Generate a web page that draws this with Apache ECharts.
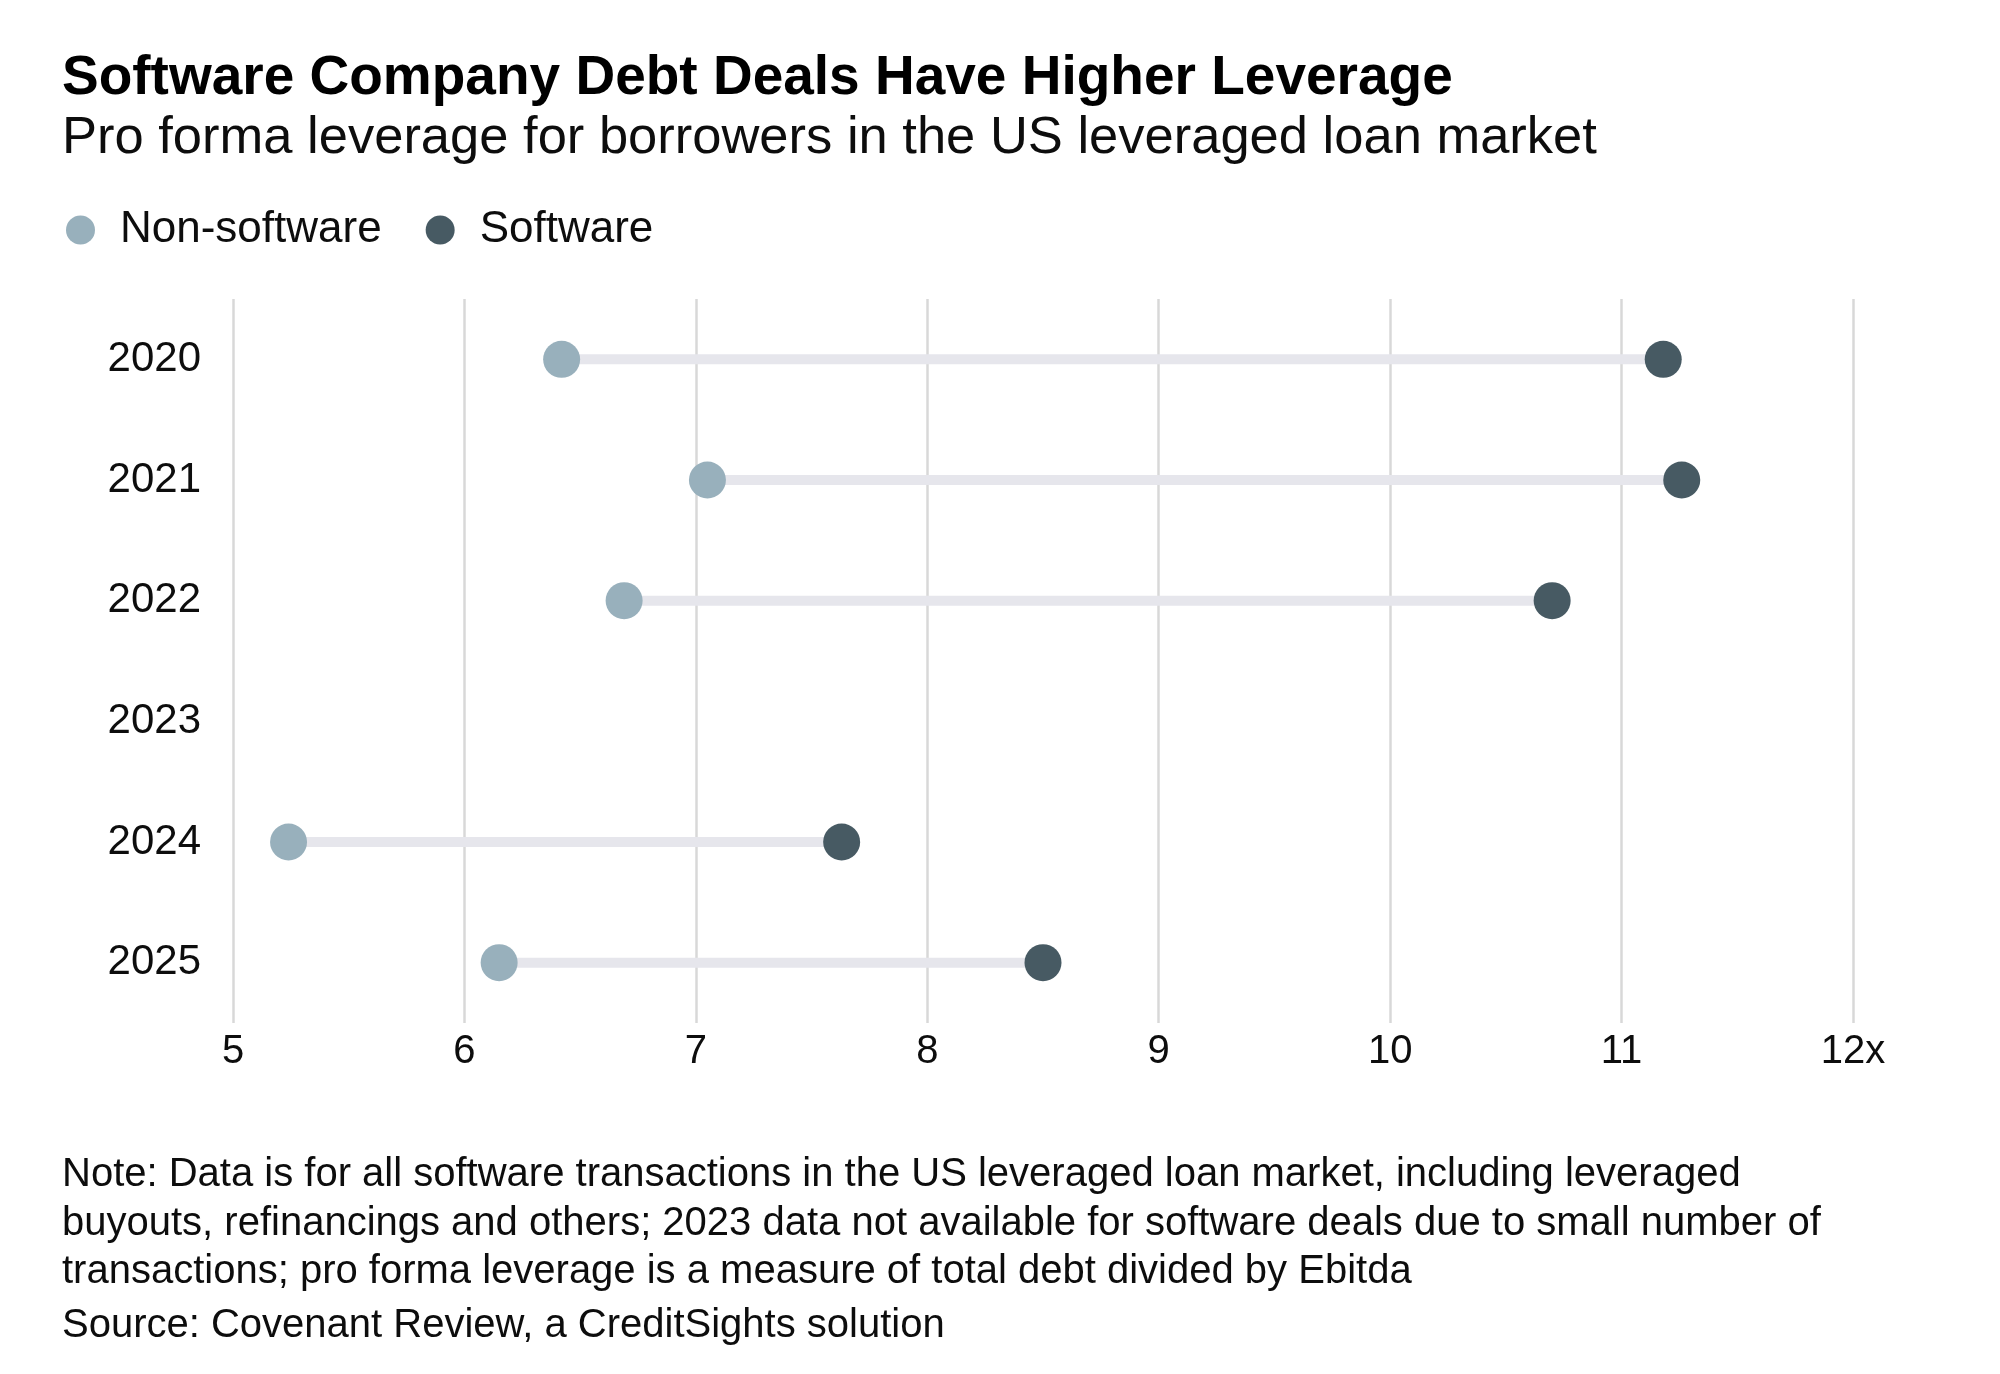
<!DOCTYPE html>
<html>
<head>
<meta charset="utf-8">
<title>Software Company Debt Deals Have Higher Leverage</title>
<script src="https://cdn.jsdelivr.net/npm/echarts@6/dist/echarts.min.js"></script>
<style>
  html, body { margin: 0; padding: 0; background: #ffffff; }
  #container { width: 2000px; height: 1374px; }
</style>
</head>
<body>
<div id="container"></div>
<script>
// 年份（纵轴类目）
var years = ['2020', '2021', '2022', '2023', '2024', '2025'];
// 非软件公司杠杆率（2023 无数据）
var nonSoftware = [6.42, 7.05, 6.69, null, 5.24, 6.15];
// 软件公司杠杆率
var software = [11.18, 11.26, 10.70, null, 7.63, 8.50];
// 横轴刻度标签
var xTickLabels = ['5', '6', '7', '8', '9', '10', '11', '12x'];

var fontName = '"Liberation Sans", Arial, sans-serif';
var textColor = '#0d0d0d';
var colorNon = '#98b0bc';
var colorSoft = '#475a63';

// 把数组转换成 [x, 类目序号] 的散点数据
function toPoints(arr) {
	var out = [];
	for(var i = 0; i < arr.length; i++) {
		if(arr[i] != null) {
			out.push([arr[i], i]);
		}
	}
	return out;
}

// 连线数据：[低值, 高值, 类目序号]
var rangeData = [];
for(var i = 0; i < years.length; i++) {
	if(nonSoftware[i] != null && software[i] != null) {
		rangeData.push([Math.min(nonSoftware[i], software[i]), Math.max(nonSoftware[i], software[i]), i]);
	}
}

var dom = document.getElementById('container');
var myChart = echarts.init(dom, null, { renderer: 'canvas' });

var option = {
	backgroundColor: '#ffffff',
	animation: false,
	textStyle: { fontFamily: fontName },
	title: [{
		text: 'Software Company Debt Deals Have Higher Leverage',
		left: 62,
		top: 51,
		padding: 0,
		textStyle: { fontFamily: fontName, fontSize: 55, fontWeight: 'bold', color: '#000000', lineHeight: 55 }
	}, {
		text: 'Pro forma leverage for borrowers in the US leveraged loan market',
		left: 62,
		top: 112,
		padding: 0,
		textStyle: { fontFamily: fontName, fontSize: 52.5, fontWeight: 'normal', color: textColor, lineHeight: 53 }
	}],
	legend: {
		left: 66,
		top: 208,
		padding: 0,
		icon: 'circle',
		itemWidth: 29,
		itemHeight: 29,
		itemGap: 44,
		selectedMode: false,
		data: ['Non-software', 'Software'],
		textStyle: { fontFamily: fontName, fontSize: 44, color: textColor, padding: [0, 0, 4, 20] }
	},
	grid: {
		left: 233,
		top: 299,
		width: 1620,
		height: 724,
		containLabel: false
	},
	xAxis: {
		type: 'value',
		min: 5,
		max: 12,
		interval: 1,
		axisLine: { show: false },
		axisTick: { show: false },
		splitLine: { show: true, lineStyle: { color: '#d8d8d8', width: 2.5 } },
		axisLabel: {
			margin: 9,
			fontFamily: fontName,
			fontSize: 40,
			color: textColor,
			formatter: function(v) {
				return xTickLabels[Math.round(v - 5)];
			}
		}
	},
	yAxis: {
		type: 'category',
		data: years,
		inverse: true,
		axisLine: { show: false },
		axisTick: { show: false },
		splitLine: { show: false },
		axisLabel: { margin: 32, fontFamily: fontName, fontSize: 42, color: textColor }
	},
	series: [{
		name: 'range',
		type: 'custom',
		silent: true,
		z: 1,
		data: rangeData,
		encode: { x: [0, 1], y: 2 },
		renderItem: function(params, api) {
			var p1 = api.coord([api.value(0), api.value(2)]);
			var p2 = api.coord([api.value(1), api.value(2)]);
			return {
				type: 'line',
				shape: { x1: p1[0], y1: p1[1], x2: p2[0], y2: p2[1] },
				style: { stroke: '#e6e6ec', lineWidth: 10 }
			};
		}
	}, {
		name: 'Non-software',
		type: 'scatter',
		z: 3,
		symbol: 'circle',
		symbolSize: 37,
		itemStyle: { color: colorNon, opacity: 1 },
		data: toPoints(nonSoftware)
	}, {
		name: 'Software',
		type: 'scatter',
		z: 3,
		symbol: 'circle',
		symbolSize: 37,
		itemStyle: { color: colorSoft, opacity: 1 },
		data: toPoints(software)
	}],
	graphic: [{
		type: 'text',
		left: 62,
		top: 1151,
		style: {
			text: 'Note: Data is for all software transactions in the US leveraged loan market, including leveraged\n' +
				'buyouts, refinancings and others; 2023 data not available for software deals due to small number of\n' +
				'transactions; pro forma leverage is a measure of total debt divided by Ebitda',
			font: '40px ' + fontName,
			fill: textColor,
			lineHeight: 48.5
		}
	}, {
		type: 'text',
		left: 62,
		top: 1302,
		style: {
			text: 'Source: Covenant Review, a CreditSights solution',
			font: '40px ' + fontName,
			fill: textColor,
			lineHeight: 48
		}
	}]
};

myChart.setOption(option);
</script>
</body>
</html>
